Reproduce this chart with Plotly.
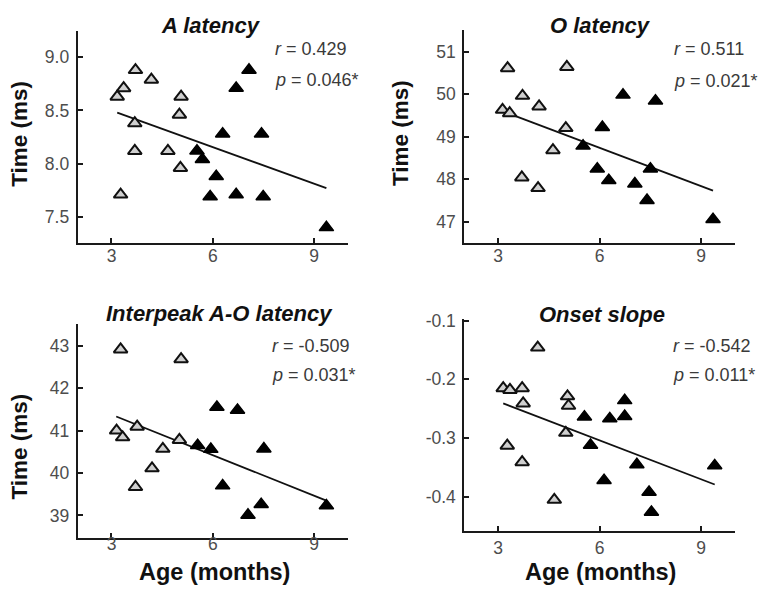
import plotly.graph_objects as go

W, H = 763, 598

# Ages (months) and measures for the younger (open) and older (filled) groups
a_young_age = [3.17, 3.27, 3.36, 3.69, 3.69, 3.71, 4.18, 4.67, 5.01, 5.04, 5.06]
a_young_val = [8.63, 7.71, 8.71, 8.38, 8.12, 8.88, 8.79, 8.12, 8.46, 7.96, 8.63]
a_old_age = [5.53, 5.69, 5.92, 6.10, 6.29, 6.69, 6.69, 7.07, 7.44, 7.49, 9.36]
a_old_val = [8.12, 8.04, 7.69, 7.88, 8.28, 8.71, 7.71, 8.88, 8.28, 7.69, 7.40]
a_fit_age = [3.17, 9.36]
a_fit_val = [8.48, 7.77]

o_young_age = [3.13, 3.28, 3.34, 3.70, 3.72, 4.18, 4.21, 4.62, 5.00, 5.03]
o_young_val = [49.63, 50.61, 49.55, 48.04, 49.96, 47.79, 49.71, 48.68, 49.20, 50.64]
o_old_age = [5.51, 5.93, 6.08, 6.27, 6.69, 7.04, 7.40, 7.50, 7.65, 9.35]
o_old_val = [48.78, 48.24, 49.22, 47.97, 49.98, 47.89, 47.50, 48.24, 49.84, 47.05]
o_fit_age = [3.13, 9.35]
o_fit_val = [49.60, 47.73]

ao_young_age = [3.15, 3.27, 3.33, 3.71, 3.76, 4.20, 4.52, 5.01, 5.06]
ao_young_val = [41.00, 42.91, 40.84, 39.67, 41.09, 40.11, 40.57, 40.78, 42.68]
ao_old_age = [5.55, 5.94, 6.12, 6.29, 6.73, 7.04, 7.43, 7.51, 9.36]
ao_old_val = [40.65, 40.56, 41.55, 39.70, 41.48, 39.01, 39.26, 40.57, 39.23]
ao_fit_age = [3.14, 9.36]
ao_fit_val = [41.33, 39.35]

s_young_age = [3.15, 3.27, 3.35, 3.71, 3.71, 3.74, 4.17, 4.66, 5.00, 5.05, 5.08]
s_young_val = [-0.215, -0.313, -0.218, -0.215, -0.341, -0.241, -0.146, -0.405, -0.291, -0.229, -0.245]
s_old_age = [5.55, 5.73, 6.13, 6.30, 6.74, 6.74, 7.10, 7.46, 7.53, 9.40]
s_old_val = [-0.264, -0.312, -0.372, -0.267, -0.236, -0.263, -0.345, -0.392, -0.426, -0.347]
s_fit_age = [3.15, 9.40]
s_fit_val = [-0.241, -0.379]

titles = ["A latency", "O latency", "Interpeak A-O latency", "Onset slope"]
r_texts = ["0.429", "0.511", "-0.509", "-0.542"]
p_texts = ["0.046*", "0.021*", "0.031*", "0.011*"]

x_ticks = [3, 6, 9]
y_ticks = [
    ([7.5, 8.0, 8.5, 9.0], ["7.5", "8.0", "8.5", "9.0"]),
    ([47, 48, 49, 50, 51], ["47", "48", "49", "50", "51"]),
    ([39, 40, 41, 42, 43], ["39", "40", "41", "42", "43"]),
    ([-0.4, -0.3, -0.2, -0.1], ["-0.4", "-0.3", "-0.2", "-0.1"]),
]
y_ranges = [[7.256, 9.25], [46.5, 51.5], [38.48, 43.5], [-0.458, -0.097]]

panels = [
    (a_young_age, a_young_val, a_old_age, a_old_val, a_fit_age, a_fit_val),
    (o_young_age, o_young_val, o_old_age, o_old_val, o_fit_age, o_fit_val),
    (ao_young_age, ao_young_val, ao_old_age, ao_old_val, ao_fit_age, ao_fit_val),
    (s_young_age, s_young_val, s_old_age, s_old_val, s_fit_age, s_fit_val),
]

# plot-area boxes in pixels: (left, right, top, bottom)
boxes = [
    (77.7, 348.0, 23.0, 238.0),
    (464.3, 735.0, 22.7, 238.0),
    (77.7, 348.0, 320.7, 536.7),
    (464.3, 735.0, 315.0, 530.0),
]
# gap between x axis line and its tick labels, per panel
x_label_standoff = [-4, -4, -11, 0]

FONT = "Liberation Sans, Arial, sans-serif"
AXIS_COLOR = "#1a1a1a"
TICK_COLOR = "#4d4d4d"


def px(x):
    return x / W


def py(y):
    return 1 - y / H


fig = go.Figure()

for i, (ya, yv, oa, ov, fa, fv) in enumerate(panels):
    n = "" if i == 0 else str(i + 1)
    xa, yax = "x" + n, "y" + n
    fig.add_trace(go.Scatter(
        x=fa, y=fv, mode="lines", xaxis=xa, yaxis=yax,
        line=dict(color="#111111", width=1.8), showlegend=False, hoverinfo="skip"))
    fig.add_trace(go.Scatter(
        x=ya, y=yv, mode="markers", xaxis=xa, yaxis=yax, showlegend=False,
        marker=dict(symbol="triangle-up", size=12, color="#cfcfcf",
                    line=dict(color="#111111", width=2))))
    fig.add_trace(go.Scatter(
        x=oa, y=ov, mode="markers", xaxis=xa, yaxis=yax, showlegend=False,
        marker=dict(symbol="triangle-up", size=12.5, color="#000000",
                    line=dict(color="#000000", width=1.5))))

    l, r, t, b = boxes[i]
    common = dict(
        showline=True, linecolor=AXIS_COLOR, linewidth=2,
        ticks="inside", ticklen=5, tickwidth=1.5, tickcolor=AXIS_COLOR,
        showgrid=False, zeroline=False,
        tickfont=dict(family=FONT, size=17.5, color=TICK_COLOR),
    )
    fig.layout["xaxis" + n] = dict(
        domain=[px(l), px(r)], range=[2, 10], tickvals=x_ticks,
        anchor=yax, ticklabelstandoff=x_label_standoff[i], **common)
    tv, tt = y_ticks[i]
    fig.layout["yaxis" + n] = dict(
        domain=[py(b), py(t)], range=y_ranges[i], tickvals=tv, ticktext=tt,
        anchor=xa, ticklabelstandoff=3, **common)

annotations = []
title_pos = [(211, 18), (600, 18), (220, 310), (601.7, 310.7)]
for (tx, ty), ttl in zip(title_pos, titles):
    annotations.append(dict(
        x=px(tx), y=py(ty), xref="paper", yref="paper", text="<b><i>%s</i></b>" % ttl,
        showarrow=False, xanchor="center", yanchor="middle",
        font=dict(family=FONT, size=22, color="#111111")))

stat_pos = [(273, 42, 73), (672, 42, 74), (270, 343, 372), (671, 343, 372)]
for (sx, ry, pyy), rt, pt in zip(stat_pos, r_texts, p_texts):
    annotations.append(dict(
        x=px(sx), y=py(ry), xref="paper", yref="paper", text="<i>r</i> = %s" % rt,
        showarrow=False, xanchor="left", yanchor="middle",
        font=dict(family=FONT, size=18, color="#3a3a3a")))
    annotations.append(dict(
        x=px(sx), y=py(pyy), xref="paper", yref="paper", text="<i>p</i> = %s" % pt,
        showarrow=False, xanchor="left", yanchor="middle",
        font=dict(family=FONT, size=18, color="#3a3a3a")))

for (ax, ay) in [(19.5, 128), (400.7, 127), (19.5, 445)]:
    annotations.append(dict(
        x=px(ax), y=py(ay), xref="paper", yref="paper", text="<b>Time (ms)</b>",
        showarrow=False, textangle=-90, xanchor="center", yanchor="middle",
        font=dict(family=FONT, size=22.5, color="#111111")))

for (ax, ay) in [(214, 572), (600, 572)]:
    annotations.append(dict(
        x=px(ax), y=py(ay), xref="paper", yref="paper", text="<b>Age (months)</b>",
        showarrow=False, xanchor="center", yanchor="middle",
        font=dict(family=FONT, size=23.5, color="#111111")))

fig.update_layout(
    width=W, height=H, margin=dict(l=0, r=0, t=0, b=0),
    paper_bgcolor="white", plot_bgcolor="white",
    annotations=annotations,
)

fig.write_html("out.html")
